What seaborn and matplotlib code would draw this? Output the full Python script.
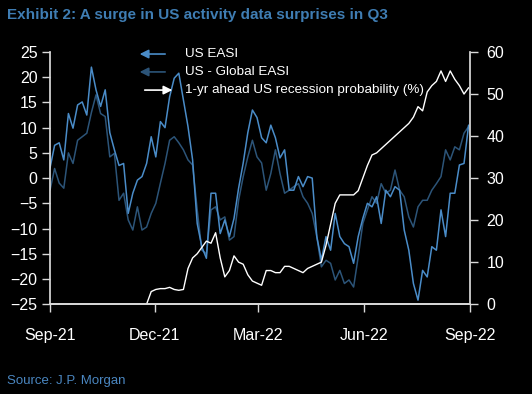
import numpy as np
import pandas as pd
import matplotlib
matplotlib.use("Agg")
import matplotlib.pyplot as plt
import matplotlib.dates as mdates
import seaborn as sns

# values, one reading every 4 days from 1 Sep 2021
dates = pd.date_range("2021-09-01", periods=92, freq="4D")

us_easi = [2, 6.5, 7, 3.6, 12.8, 9.9, 14.5, 15.1, 12.5, 22, 17.5, 14.2, 17.5, 9, 5.6, 2.5,
           2.9, -7, -3, -0.4, 0.3, 2.9, 8.2, 4.2, 11.2, 10, 16.1, 19.8, 20.8, 15.5, 10.2, 3.6,
           -9, -13.6, -15.9, -3, -3, -11, -8.3, -11.6, -8, -2, 3, 9, 13.5, 12, 8, 7,
           10.5, 8, 4, 5.6, -2.4, -2.4, 0.3, -1.7, 0.3, 0, -11.6, -16.3, -11.6, -14.3, -7, -11.6,
           -13, -13.6, -16.9, -11.6, -8, -5, -5.7, -3.7, -9, -2.4, -3.7, -1.7, -2.4, -10.3, -14.3, -20.9,
           -24.2, -18.3, -19.6, -13.6, -14.3, -6.3, -11.6, -3, -3, 2.6, 2.9, 10.5]

us_global_easi = [-2.4, 1.9, -1, -2, 5, 2.9, 7.5, 8.2, 8.9, 13, 16.5, 12.8, 12.2, 4.2, 4.9, -4.4,
                  -3, -8.3, -10.3, -5.7, -10.3, -9.7, -7, -5, -1, 2.9, 7.5, 8.2, 7, 5.6, 3.6, 2.6,
                  -6.3, -14.3, -15, -6.3, -5.7, -8.3, -7.7, -12.3, -11.6, -4.4, 0.3, 4.2, 7.5, 4.2, 3, -2.4,
                  0.9, 5.6, 0.9, -3, -2.4, -1.7, -1.1, -3.7, -5, -7, -11.6, -17.6, -16.3, -16.9, -20.2, -18.3,
                  -20.9, -20.2, -21.6, -15.6, -9, -6.3, -3.7, -5, -1.1, -3, -2.4, 1.6, -2.4, -3.7, -7.7, -9.7,
                  -5.7, -4.4, -4.4, -2.4, -1.1, 0.3, 5.6, 3.6, 6.2, 5.6, 8.9, 10.2]

recession_prob = [np.nan] * 21 + [
    0, 3, 3.5, 3.7, 3.7, 4, 3.5, 3.3, 3.5, 8.5, 11, 12, 13.5, 15, 14.5, 17,
    11, 6.5, 8, 11.5, 10, 9.5, 7, 5.5, 5, 4.5, 8, 8, 7.5, 7.5, 9, 9,
    8.5, 8, 7.5, 8.5, 9, 9.5, 10, 14, 19, 24, 26, 26, 26, 26, 27, 30,
    33, 35.5, 36, 37, 38, 39, 40, 41, 42, 43, 44.5, 47, 46, 50.5, 52, 53,
    55.5, 53, 55.5, 53.5, 52, 50, 51.5]

tick_dates = pd.to_datetime(["2021-09-01", "2021-12-01", "2022-03-01", "2022-06-01", "2022-09-01"])

light_blue = "#4A8CC8"
dark_blue = "#2C5478"
axis_col = "#D9D9D9"

sns.set_theme(style="ticks", rc={"axes.facecolor": "black", "figure.facecolor": "black",
                                 "axes.edgecolor": axis_col, "xtick.color": axis_col,
                                 "ytick.color": axis_col, "text.color": "white"})
plt.rcParams["font.family"] = ["Liberation Sans", "DejaVu Sans"]

fig = plt.figure(figsize=(5.32, 3.94), dpi=100)
ax = fig.add_axes([0.094, 0.228, 0.789, 0.640])
ax2 = ax.twinx()

sns.lineplot(x=dates, y=us_global_easi, ax=ax, color=dark_blue, lw=1.1)
sns.lineplot(x=dates, y=us_easi, ax=ax, color=light_blue, lw=1.1)
sns.lineplot(x=dates, y=recession_prob, ax=ax2, color="white", lw=1.0)

ax.set_xlim(tick_dates[0], tick_dates[-1])
ax.set_ylim(-25, 25)
ax.set_yticks(range(-25, 30, 5))
ax2.set_ylim(0, 60)
ax2.set_yticks(range(0, 70, 10))
ax.set_xticks(tick_dates)
ax.xaxis.set_major_formatter(mdates.DateFormatter("%b-%y"))
ax.set_xlabel("")
ax.set_ylabel("")
ax2.set_ylabel("")

for a in (ax, ax2):
    a.spines["top"].set_visible(False)
    a.tick_params(length=6, width=1, labelcolor="white", labelsize=11.5)
ax.spines["right"].set_visible(False)
ax2.spines["left"].set_visible(False)
ax.tick_params(axis="y", pad=3)
ax2.tick_params(axis="y", pad=6)
ax.tick_params(axis="x", pad=11)

# legend drawn by hand: arrows show which axis each series is read on
legend_items = [("US EASI", light_blue, 0.992, "left"),
                ("US - Global EASI", dark_blue, 0.921, "left"),
                ("1-yr ahead US recession probability (%)", "white", 0.849, "right")]
for label, col, yy, side in legend_items:
    if side == "left":
        start, end = 0.281, 0.207
    else:
        start, end = 0.219, 0.298
    ax2.annotate("", xy=(end, yy), xytext=(start, yy), xycoords="axes fraction",
                 arrowprops=dict(arrowstyle="-|>", color=col, lw=1.2, mutation_scale=13))
    ax2.text(0.321, yy, label, transform=ax2.transAxes, va="center", ha="left",
             color="white", fontsize=9.7)

fig.text(0.013, 0.962, "Exhibit 2: A surge in US activity data surprises in Q3",
         fontsize=11, fontweight="bold", color="#3F7DB3", va="center")
fig.text(0.013, 0.033, "Source: J.P. Morgan", fontsize=9.5, color="#4A86C0", va="center")

fig.savefig("out.png", dpi=100, facecolor="black")
